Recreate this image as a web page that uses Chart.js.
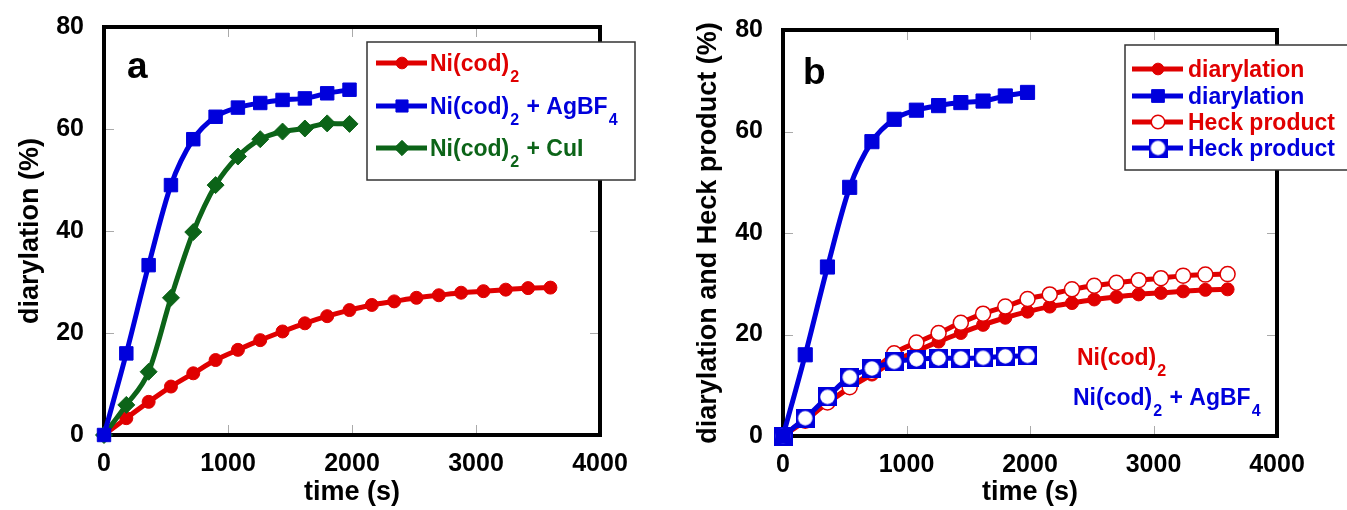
<!DOCTYPE html>
<html><head><meta charset="utf-8">
<script src="https://cdn.jsdelivr.net/npm/chart.js@4.4.1/dist/chart.umd.min.js"></script>
<style>
html,body{margin:0;padding:0;background:#fff;}
body{width:1347px;height:510px;position:relative;overflow:hidden;}
.wrap{position:absolute;top:0;height:510px;}
canvas{display:block;}
</style></head><body>
<div class="wrap" style="left:0;width:660px"><canvas id="ca" width="660" height="510"></canvas></div>
<div class="wrap" style="left:680px;width:667px"><canvas id="cb" width="667" height="510"></canvas></div>
<script>
// ---- data ----
const timeLong  = [0,180,360,540,720,900,1080,1260,1440,1620,1800,1980,2160,2340,2520,2700,2880,3060,3240,3420,3600];
const timeShort = [0,180,360,540,720,900,1080,1260,1440,1620,1800,1980];
const diarylNi   = [0,3.3,6.5,9.5,12.1,14.7,16.7,18.6,20.3,21.9,23.3,24.5,25.5,26.2,26.9,27.4,27.9,28.2,28.5,28.8,28.9];
const diarylNiAg = [0,16.0,33.3,49.0,58.0,62.4,64.2,65.1,65.7,66.0,67.0,67.7];
const diarylNiCu = [0,5.9,12.4,26.9,39.8,49.0,54.6,58.0,59.5,60.1,61.1,61.0];
const heckNi     = [0,3.0,6.6,9.6,12.6,16.3,18.4,20.3,22.3,24.1,25.5,27.0,27.9,28.9,29.6,30.2,30.7,31.1,31.6,31.8,31.9];
const heckNiAg   = [0,3.5,7.7,11.6,13.3,14.6,15.1,15.3,15.3,15.4,15.7,15.8];
const xTicks = [0,1000,2000,3000,4000];
const yTicks = [0,20,40,60,80];
const namesA = ['Ni(cod)_2','Ni(cod)_2 + AgBF_4','Ni(cod)_2 + CuI'];
const namesB = ['diarylation','diarylation','Heck product','Heck product'];
const notesB = ['Ni(cod)_2','Ni(cod)_2 + AgBF_4'];

const RED='#e00000', BLUE='#0000dc', GREEN='#0c6418';
const FONT='"Liberation Sans", Arial, sans-serif';

const pts = (xs, ys) => xs.map((t,i)=>({x:t, y:ys[i]}));

// custom marker: blue square with white circle
function heckBlueMarker(){
  const c=document.createElement('canvas'); c.width=19; c.height=19;
  const g=c.getContext('2d');
  g.fillStyle=BLUE; g.fillRect(0,0,19,19);
  g.fillStyle='#fff'; g.beginPath(); g.arc(9.5,9.5,7.2,0,Math.PI*2); g.fill();
  return c;
}
const blueHeckImg = heckBlueMarker();

function drawRich(ctx, text, x, y, size, color){
  ctx.fillStyle=color; ctx.textAlign='left'; ctx.textBaseline='alphabetic';
  const parts = text.split(/_(\S)/);
  let cx=x;
  parts.forEach((p,i)=>{
    if(!p) return;
    if(i%2===1){
      ctx.font='bold '+Math.round(size*0.7)+'px '+FONT;
      ctx.fillText(p,cx+1,y+11); cx+=ctx.measureText(p).width+2;
    } else {
      ctx.font='bold '+size+'px '+FONT;
      ctx.fillText(p,cx,y); cx+=ctx.measureText(p).width;
    }
  });
}

function legendMarker(ctx, ds, x, y){
  ctx.save();
  ctx.strokeStyle=ds.borderColor; ctx.lineWidth=5;
  ctx.beginPath(); ctx.moveTo(x-26,y); ctx.lineTo(x+25,y); ctx.stroke();
  const ps=ds.pointStyle;
  if(ps instanceof HTMLCanvasElement){
    ctx.drawImage(ps,x-ps.width/2,y-ps.height/2);
  } else {
    ctx.fillStyle=ds.pointBackgroundColor; ctx.strokeStyle=ds.pointBorderColor;
    ctx.lineWidth=ds.pointBorderWidth;
    Chart.helpers.drawPoint(ctx,{pointStyle:ps,radius:ds.pointRadius*0.9,rotation:0,borderWidth:ds.pointBorderWidth},x,y);
  }
  ctx.restore();
}

const framePlugin = {
  id:'frame',
  beforeDatasetsDraw(chart){
    const {ctx, chartArea:a, scales:{x,y}} = chart;
    ctx.save();
    ctx.strokeStyle='#aaa'; ctx.lineWidth=1;
    const ln=(x1,y1,x2,y2)=>{ctx.beginPath();ctx.moveTo(x1,y1);ctx.lineTo(x2,y2);ctx.stroke();};
    xTicks.slice(1,-1).forEach(v=>{const p=Math.round(x.getPixelForValue(v))+0.5; ln(p,a.top,p,a.top+10); ln(p,a.bottom,p,a.bottom-10);});
    yTicks.slice(1,-1).forEach(v=>{const p=Math.round(y.getPixelForValue(v))+0.5; ln(a.left,p,a.left+10,p); ln(a.right,p,a.right-10,p);});
    ctx.strokeStyle='#000'; ctx.lineWidth=4;
    ctx.strokeRect(a.left,a.top,a.width,a.height);
    ctx.restore();
  },
  afterDraw(chart){
    const o=chart.options.plugins.frame; const ctx=chart.ctx;
    ctx.save();
    ctx.fillStyle='#000'; ctx.font='bold 37px '+FONT; ctx.textAlign='left'; ctx.textBaseline='alphabetic';
    ctx.fillText(o.letter,o.letterX,o.letterY);
    const L=o.legend;
    ctx.fillStyle='#fff'; ctx.fillRect(L.x,L.y,L.w,L.h);
    ctx.strokeStyle='#333'; ctx.lineWidth=1.5; ctx.strokeRect(L.x,L.y,L.w,L.h);
    L.items.forEach((it,i)=>{
      const ds=chart.data.datasets[it];
      const cy=L.rowY[i];
      legendMarker(ctx,ds,L.markX,cy);
      drawRich(ctx,L.names[i],L.textX,cy+8,L.size,ds.borderColor);
    });
    (o.notes||[]).forEach(n=>drawRich(ctx,n.text,n.x,n.y,23,n.color));
    ctx.restore();
  }
};

function scales(yTitle, yPad, yWidth, xHeight){
  return {
    x:{type:'linear',min:0,max:4000,
       afterBuildTicks:s=>{s.ticks=xTicks.map(v=>({value:v}));},
       afterFit:s=>{s.height=xHeight;},
       grid:{display:false},border:{display:false},
       ticks:{font:{family:FONT,weight:'bold',size:25},color:'#000',padding:6,maxRotation:0,callback:v=>String(v)},
       title:{display:true,text:'time (s)',font:{family:FONT,weight:'bold',size:27},color:'#000',padding:{top:0,bottom:1}}},
    y:{type:'linear',min:0,max:80,
       afterBuildTicks:s=>{s.ticks=yTicks.map(v=>({value:v}));},
       afterFit:s=>{s.width=yWidth;},
       grid:{display:false},border:{display:false},
       ticks:{font:{family:FONT,weight:'bold',size:25},color:'#000',padding:12,callback:v=>String(v)},
       title:{display:true,text:yTitle,font:{family:FONT,weight:'bold',size:27},color:'#000',padding:{top:yPad,bottom:0}}}
  };
}

function ds(label, data, color, style, r, order, extra){
  return Object.assign({label, data, borderColor:color, backgroundColor:color,
    pointBackgroundColor:color, pointBorderColor:color, pointBorderWidth:1,
    pointStyle:style, pointRadius:r, pointHoverRadius:r, borderWidth:5,
    cubicInterpolationMode:'monotone', clip:false, order}, extra||{});
}

Chart.defaults.animation=false;

new Chart(document.getElementById('ca'),{
  type:'line',
  data:{datasets:[
    ds(namesA[0], pts(timeLong,diarylNi), RED, 'circle', 6.5, 3),
    ds(namesA[1], pts(timeShort,diarylNiAg), BLUE, 'rect', 9.5, 1),
    ds(namesA[2], pts(timeShort,diarylNiCu), GREEN, 'rectRot', 8.5, 2)
  ]},
  options:{responsive:false,devicePixelRatio:1,animation:false,
    layout:{padding:{left:0,right:60,top:27,bottom:0}},
    scales:scales('diarylation (%)',14,104,75),
    plugins:{legend:{display:false},tooltip:{enabled:false},
      frame:{letter:'a',letterX:127,letterY:78,
        legend:{x:367,y:42,w:268,h:138,rowY:[63,106,148],markX:402,textX:430,size:23,items:[0,1,2],names:namesA}}}
  },
  plugins:[framePlugin]
});

new Chart(document.getElementById('cb'),{
  type:'line',
  data:{datasets:[
    ds(namesB[0], pts(timeLong,diarylNi), RED, 'circle', 6.5, 4),
    ds(namesB[1], pts(timeShort,diarylNiAg), BLUE, 'rect', 10, 1),
    ds(namesB[2], pts(timeLong,heckNi), RED, 'circle', 7.5, 3, {pointBackgroundColor:'#fff',pointBorderWidth:1.5}),
    ds(namesB[3], pts(timeShort,heckNiAg), BLUE, blueHeckImg, 9, 2)
  ]},
  options:{responsive:false,devicePixelRatio:1,animation:false,
    layout:{padding:{left:0,right:70,top:30,bottom:0}},
    scales:scales('diarylation and Heck product (%)',12,103,74),
    plugins:{legend:{display:false},tooltip:{enabled:false},
      frame:{letter:'b',letterX:123,letterY:84,
        legend:{x:445,y:45,w:230,h:125,rowY:[69,96,122,148],markX:478,textX:508,size:23,items:[0,1,2,3],names:namesB},
        notes:[{text:notesB[0],x:397,y:365,color:RED},{text:notesB[1],x:393,y:405,color:BLUE}]}}
  },
  plugins:[framePlugin]
});
</script>
</body></html>
